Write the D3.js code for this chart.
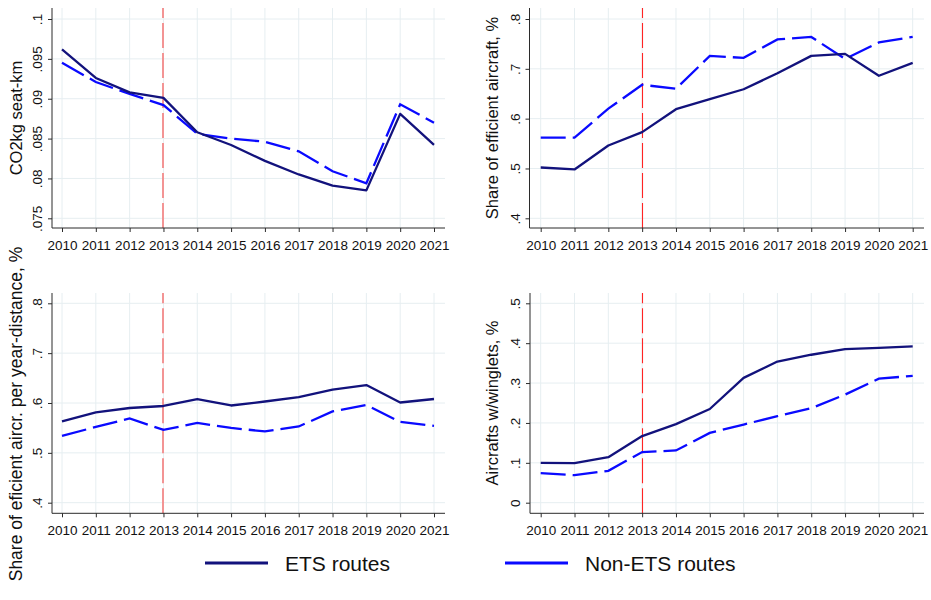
<!DOCTYPE html>
<html>
<head>
<meta charset="utf-8">
<script src="https://cdn.jsdelivr.net/npm/d3@7"></script>
<style>
  html, body { margin: 0; padding: 0; background: #fff; }
  svg { display: block; font-family: "Liberation Sans", Arial, Helvetica, sans-serif; }
</style>
</head>
<body>
<svg id="chart" width="931" height="600"></svg>
<script>
// Years on the horizontal axis of every panel
const years = [2010, 2011, 2012, 2013, 2014, 2015, 2016, 2017, 2018, 2019, 2020, 2021];
const policyYear = 2013;

// Panel 1: CO2 kg per seat-km
const co2Ticks = [0.075, 0.08, 0.085, 0.09, 0.095, 0.1];
const co2Labels = [".075", ".08", ".085", ".09", ".095", ".1"];
const co2Ets    = [0.0962, 0.0926, 0.0908, 0.0901, 0.0858, 0.0842, 0.0822, 0.0805, 0.0791, 0.0785, 0.0881, 0.0842];
const co2NonEts = [0.0945, 0.0921, 0.0906, 0.0892, 0.0856, 0.0850, 0.0846, 0.0834, 0.0809, 0.0794, 0.0893, 0.0870];

// Panel 2: share of efficient aircraft
const effTicks = [0.4, 0.5, 0.6, 0.7, 0.8];
const effLabels = [".4", ".5", ".6", ".7", ".8"];
const effEts    = [0.502, 0.498, 0.546, 0.573, 0.619, 0.639, 0.659, 0.691, 0.726, 0.730, 0.686, 0.712];
const effNonEts = [0.562, 0.562, 0.620, 0.668, 0.660, 0.726, 0.722, 0.759, 0.764, 0.720, 0.753, 0.764];

// Panel 3: share of efficient aircraft per year-distance
const effDistTicks = [0.4, 0.5, 0.6, 0.7, 0.8];
const effDistLabels = [".4", ".5", ".6", ".7", ".8"];
const effDistEts    = [0.563, 0.581, 0.590, 0.594, 0.608, 0.595, 0.603, 0.612, 0.627, 0.636, 0.601, 0.608];
const effDistNonEts = [0.534, 0.552, 0.569, 0.546, 0.560, 0.550, 0.543, 0.553, 0.583, 0.596, 0.562, 0.554];

// Panel 4: aircraft with winglets
const wingTicks = [0, 0.1, 0.2, 0.3, 0.4, 0.5];
const wingLabels = ["0", ".1", ".2", ".3", ".4", ".5"];
const wingEts    = [0.100, 0.099, 0.114, 0.167, 0.197, 0.235, 0.313, 0.354, 0.371, 0.385, 0.388, 0.392];
const wingNonEts = [0.074, 0.069, 0.080, 0.127, 0.131, 0.175, 0.196, 0.217, 0.237, 0.271, 0.311, 0.318];

const seriesNames = ["ETS routes", "Non-ETS routes"];

const COLOR_ETS = "#12127c";
const COLOR_NON = "#0a0aff";
const GRID = "#e6eef1";
const AXIS = "#2b2b2b";
const FONT_TICK = 13.5;

const svg = d3.select("#chart");

// Left column draws the 2013 marker softer and wider, right column thin and bright
const markerLeft = { color: "#f39494", width: 2 };
const markerRight = { color: "#ff2424", width: 1.1 };

const panels = [
  { title: "CO2kg seat-km", ticks: co2Ticks, labels: co2Labels, ets: co2Ets, non: co2NonEts,
    box: { left: 52, right: 445, top: 8, bottom: 228 }, xr: [62, 434], yr: [218.3, 19],
    titleX: 22, titleY: 118, titleSize: 16.5, marker: markerLeft },
  { title: "Share of efficient aircraft, %", ticks: effTicks, labels: effLabels, ets: effEts, non: effNonEts,
    box: { left: 529.5, right: 924, top: 8, bottom: 228 }, xr: [540.7, 912.7], yr: [218.3, 19],
    titleX: 498, titleY: 118, titleSize: 16.5, marker: markerRight },
  { title: "Share of eficient aircr. per year-distance, %", ticks: effDistTicks, labels: effDistLabels, ets: effDistEts, non: effDistNonEts,
    box: { left: 52, right: 445, top: 293, bottom: 513.3 }, xr: [62, 434], yr: [502.7, 303.3],
    titleX: 22, titleY: 414, titleSize: 17.5, marker: markerLeft },
  { title: "Aircrafts w/winglets, %", ticks: wingTicks, labels: wingLabels, ets: wingEts, non: wingNonEts,
    box: { left: 530, right: 924, top: 293, bottom: 513.3 }, xr: [540.7, 912.7], yr: [502.7, 303.3],
    titleX: 498, titleY: 403, titleSize: 16.5, marker: markerRight }
];

panels.forEach(p => {
  const g = svg.append("g");
  const b = p.box;
  const x = d3.scaleLinear().domain([years[0], years[years.length - 1]]).range(p.xr);
  const y = d3.scaleLinear().domain([p.ticks[0], p.ticks[p.ticks.length - 1]]).range(p.yr);

  // grid
  g.append("g").selectAll("line").data(p.ticks).join("line")
    .attr("x1", b.left).attr("x2", b.right)
    .attr("y1", d => y(d)).attr("y2", d => y(d))
    .attr("stroke", GRID).attr("stroke-width", 1);
  g.append("g").selectAll("line").data(years).join("line")
    .attr("x1", d => x(d)).attr("x2", d => x(d))
    .attr("y1", b.top).attr("y2", b.bottom)
    .attr("stroke", GRID).attr("stroke-width", 1);

  // policy year marker
  const px = p.marker.width >= 2 ? Math.round(x(policyYear)) : Math.round(x(policyYear)) + 0.5;
  g.append("line")
    .attr("x1", px).attr("x2", px)
    .attr("y1", b.bottom).attr("y2", b.top)
    .attr("stroke", p.marker.color).attr("stroke-width", p.marker.width)
    .attr("stroke-dasharray", "25,5");

  // y axis
  const yAxis = d3.axisLeft(y).tickValues(p.ticks)
    .tickFormat((d, i) => p.labels[i]).tickSize(4).tickPadding(2);
  const ya = g.append("g").attr("transform", `translate(${b.left},0)`).call(yAxis);
  ya.select(".domain").attr("d", `M0,${b.top}V${b.bottom}`).attr("stroke", AXIS);
  ya.selectAll(".tick line").attr("stroke", AXIS);
  ya.selectAll(".tick text")
    .attr("x", null).attr("dy", null)
    .attr("transform", "translate(-10,0) rotate(-90)")
    .attr("text-anchor", "middle")
    .attr("font-size", FONT_TICK).attr("fill", "#111")
    .attr("font-family", "Liberation Sans, Arial, sans-serif");

  // x axis
  const xAxis = d3.axisBottom(x).tickValues(years).tickFormat(d3.format("d")).tickSize(4).tickPadding(8);
  const xa = g.append("g").attr("transform", `translate(0,${b.bottom})`).call(xAxis);
  xa.select(".domain").attr("d", `M${b.left},0H${b.right}`).attr("stroke", AXIS);
  xa.selectAll(".tick line").attr("stroke", AXIS);
  xa.selectAll(".tick text")
    .attr("font-size", FONT_TICK).attr("fill", "#111")
    .attr("font-family", "Liberation Sans, Arial, sans-serif");

  // axis title
  g.append("text")
    .attr("transform", `translate(${p.titleX},${p.titleY}) rotate(-90)`)
    .attr("text-anchor", "middle")
    .attr("font-size", p.titleSize).attr("fill", "#111")
    .text(p.title);

  // series
  const line = d3.line().x((d, i) => x(years[i])).y(d => y(d));
  g.append("path").datum(p.non)
    .attr("d", line).attr("fill", "none")
    .attr("stroke", COLOR_NON).attr("stroke-width", 2.3)
    .attr("stroke-dasharray", "25,7");
  g.append("path").datum(p.ets)
    .attr("d", line).attr("fill", "none")
    .attr("stroke", COLOR_ETS).attr("stroke-width", 2.3)
    .attr("stroke-linejoin", "round");
});

// legend
const legend = svg.append("g").attr("font-size", 21).attr("fill", "#111");
const legendItems = [
  { name: seriesNames[0], color: COLOR_ETS, x0: 205 },
  { name: seriesNames[1], color: COLOR_NON, x0: 505 }
];
legendItems.forEach(it => {
  legend.append("line")
    .attr("x1", it.x0).attr("x2", it.x0 + 63)
    .attr("y1", 563).attr("y2", 563)
    .attr("stroke", it.color).attr("stroke-width", 3);
  legend.append("text")
    .attr("x", it.x0 + 80).attr("y", 570.5)
    .text(it.name);
});
</script>
</body>
</html>
